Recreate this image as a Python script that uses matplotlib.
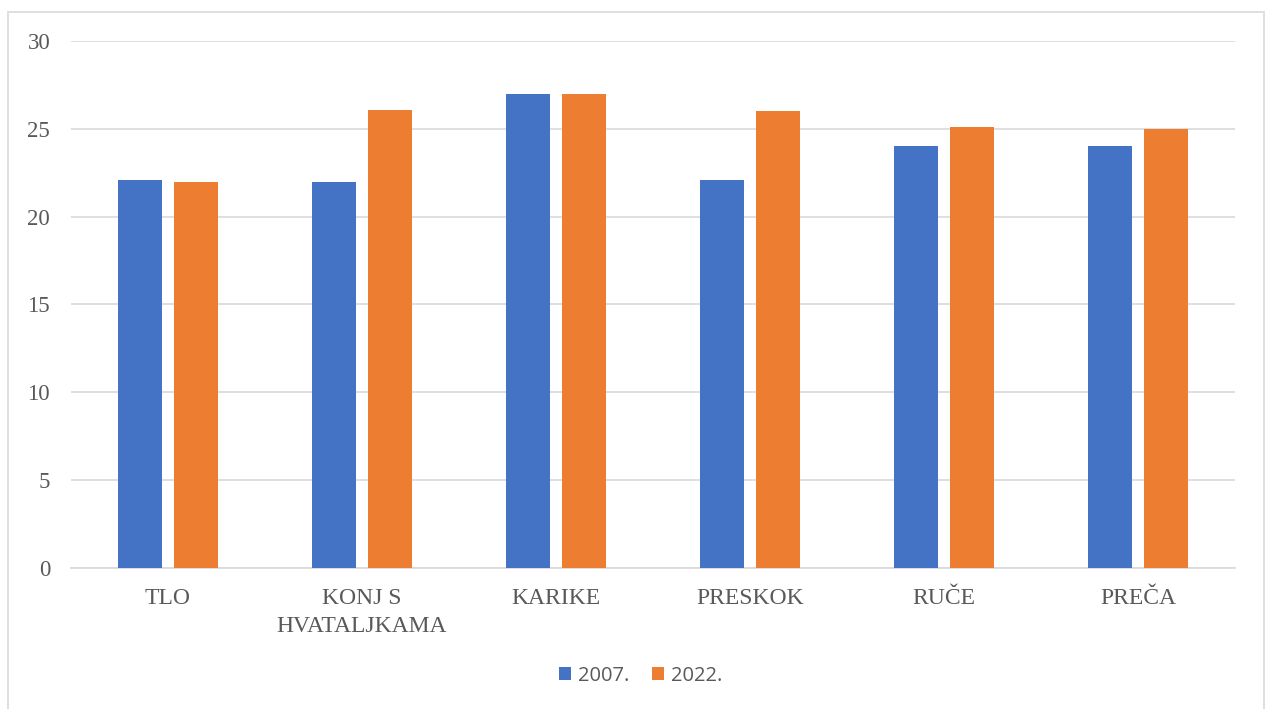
import matplotlib
matplotlib.use("Agg")
import matplotlib.pyplot as plt
import numpy as np
from matplotlib.patches import Rectangle

categories = ["TLO", "KONJ S\nHVATALJKAMA", "KARIKE", "PRESKOK", "RUČE", "PREČA"]
series_names = ["2007.", "2022."]
values_2007 = [22.1, 22.0, 27.0, 22.1, 24.05, 24.05]
values_2022 = [22.0, 26.1, 27.0, 26.0, 25.1, 25.0]
yticks = [0, 5, 10, 15, 20, 25, 30]

colors = ["#4472C4", "#ED7D31"]

W, H = 1266, 709
fig = plt.figure(figsize=(W / 100, H / 100), dpi=100)
fig.patch.set_facecolor("white")

# outer chart border
fig.add_artist(Rectangle((8 / W, -0.01), (1264 - 8) / W, (H - 12) / H + 0.01, transform=fig.transFigure,
                         fill=False, edgecolor="#D9D9D9", linewidth=1.2))

left, right = 71 / W, 1235 / W
top, bottom = 1 - 41.3 / H, 1 - 567.5 / H
ax = fig.add_axes([left, bottom, right - left, top - bottom])

x = np.arange(len(categories))
bw = 0.227
gap = 0.057
ax.bar(x - (bw + gap) / 2, values_2007, bw, color=colors[0], label=series_names[0], zorder=3)
ax.bar(x + (bw + gap) / 2, values_2022, bw, color=colors[1], label=series_names[1], zorder=3)

ax.set_xlim(-0.5, len(categories) - 0.5)
ax.set_ylim(0, 30)
ax.set_yticks(yticks)
ax.yaxis.grid(True, color="#D9D9D9", linewidth=1.2, zorder=0)
ax.set_axisbelow(True)
for s in ["top", "right", "left"]:
    ax.spines[s].set_visible(False)
ax.spines["bottom"].set_color("#D9D9D9")
ax.spines["bottom"].set_linewidth(1.2)
ax.tick_params(axis="both", length=0)
ax.tick_params(axis="y", pad=15)
ax.tick_params(axis="x", pad=15)
ax.set_xticks(x)
ax.set_xticklabels(categories, fontsize=17, family="Liberation Serif", color="#595959", linespacing=1.4)
for lab in ax.get_yticklabels():
    lab.set_fontsize(16.5)
    lab.set_family("Liberation Serif")
    lab.set_color("#595959")

leg = fig.legend(loc="center", bbox_to_anchor=(640.5 / W, 1 - 676 / H), ncol=2, frameon=False,
                 prop={"family": "Open Sans", "size": 14.5}, handlelength=0.62, handleheight=0.62,
                 handletextpad=0.35, columnspacing=1.1)
for t in leg.get_texts():
    t.set_color("#595959")

fig.savefig("out.png", dpi=100, facecolor="white")
